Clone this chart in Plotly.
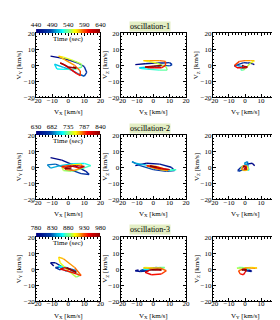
import plotly.graph_objects as go
from plotly.colors import sample_colorscale

FONT = "Liberation Serif"
W, H = 280, 320

# ---------------- data ----------------
# oscillation-1
t1 = [440, 447, 454, 461, 468, 475, 482, 489, 496, 503, 510, 517, 524, 531, 538,
      545, 552, 559, 566, 573, 580, 587, 594, 601, 608, 615, 622, 629, 636, 640]
vx1 = [-11, -5, 1, 6, 10, 11.5, 10, 6.5, 2, -3, -8.5, -7, -2, 4, 8.5,
       8, 2, -3, -6, -2, 4, 7.5, 7.5, 5, 1, -2.5, -5, 0, 5, 3]
vy1 = [5.8, 4.7, 3.2, 1.5, -0.8, -4.4, -6.8, -5.4, -3, -1.2, 0.7, -2.3, -2.5, -2.5, -1,
       1, 3.5, 5.2, 5.8, 3.5, 0, -3.5, -6.5, -5, -2, 0.5, 1.5, -1, -1.8, -1]
vz1 = [0.5, 1.0, 1.5, 1.5, 1.7, 0.5, -0.3, 0.0, -0.5, -1.0, -1.5, -2.0, -2.5, -3.0, -3.0,
       -1.0, 1.5, 2.5, 3.0, 3.0, 3.0, 2.5, 0.0, -1.5, -1.5, -1.5, -1.0, -0.5, 0.0, -0.5]
cb_ticks1 = [440, 490, 540, 590, 640]

# oscillation-2
t2 = [630, 637, 644, 651, 658, 665, 672, 679, 686, 693, 700, 707, 714, 721, 728,
      735, 742, 749, 756, 763, 770, 777, 784, 791, 798, 805, 812, 819, 826, 833, 840]
vx2 = [-11, -4, 4, 11, 13, 8, 0, -8, -13, -11, -5, 3, 10, 14, 8,
       2, -3, -4, 2, 8, 9, 4, -1, -4, 1, 7, 10, 5, -1, -2, 2]
vy2 = [6, 4.5, 1, -2.5, -4.5, -4, -1, 2, 1.5, -0.5, 1, 2.2, 2.4, 1, -1,
       -2.5, -2, 0, 1.5, 2, 0, -2, -1.5, 0.5, 1, -0.5, 0.5, 1, 0, -1, -0.5]
vz2 = [1, 2.5, 2, 0, -2, -2.5, -1.5, 1, 3.5, 2.5, 1.5, -0.5, -2, -1.5, -2,
       -1, 0.5, 1, 0.5, -1.5, -2, -1.5, 0, 1, 0.5, -1, -1.5, -1, 0.5, 0.8, 0]
cb_ticks2 = [630, 682, 735, 787, 840]

# oscillation-3
t3 = [780, 787, 794, 801, 808, 815, 822, 829, 836, 843, 850, 857, 864, 871, 878,
      885, 892, 899, 906, 913, 920, 927, 934, 941, 948, 955, 962, 969, 976, 980]
vx3 = [-9, -11, -8, -3, -5, -8, -4, 2, 5, 3, -2, -6, -1, 4, 7,
       5, 0, -5, -6, -3, 4, 8, 5, -1, -5, -2, 3, 5, 1, -1]
vy3 = [2, 4, 4, 1, -0.5, 1, 1.5, 0, -1, -2, -1, 2, 1, -2, -4,
       -5, -1, 4, 7.5, 6.5, 1, -4, -3, -1, 0, 1, -1, -2, 0, 1]
vz3 = [-0.5, -1, -1.5, -1, -0.5, -1, 0.3, 1.0, 0.5, 0, -0.5, 0, 0.5, 1, 1,
       0.5, 0.8, 1.0, 0.8, 0.5, 0.8, -1, -3, -3.5, -2, -0.5, 0, -0.5, -0.5, -0.3]
cb_ticks3 = [780, 830, 880, 930, 980]

osc_labels = ["oscillation-1", "oscillation-2", "oscillation-3"]
axis_ticks = [-20, -10, 0, 10, 20]
x_titles = ["V<sub>X</sub> [km/s]", "V<sub>X</sub> [km/s]", "V<sub>Y</sub> [km/s]"]
y_titles = ["V<sub>Y</sub> [km/s]", "V<sub>Z</sub> [km/s]", "V<sub>Z</sub> [km/s]"]

# ---------------- layout geometry ----------------
col_px = [(24, 91), (112, 180), (208, 275)]
row_top_px = [22, 126.5, 231]
ROW_H = 65.5
ytitle_shift = [-17, -15, -16]


def fx(p):
    return p / W


def fy(p):
    return 1 - p / H


oscs = [(t1, vx1, vy1, vz1, cb_ticks1),
        (t2, vx2, vy2, vz2, cb_ticks2),
        (t3, vx3, vy3, vz3, cb_ticks3)]
pairs = [("vx", "vy"), ("vx", "vz"), ("vy", "vz")]

tickfont = dict(family=FONT, size=7, color="black")
titlefont = dict(family=FONT, size=7, color="black")
fig = go.Figure()
layout = {}
annotations = []

k = 0
for r, (t, vx, vy, vz, cbt) in enumerate(oscs):
    comps = {"vx": vx, "vy": vy, "vz": vz}
    tmin, tmax = cbt[0], cbt[-1]
    top = row_top_px[r]
    bot = top + ROW_H
    for c in range(3):
        k += 1
        xs = comps[pairs[c][0]]
        ys = comps[pairs[c][1]]
        xname = "x" if k == 1 else f"x{k}"
        yname = "y" if k == 1 else f"y{k}"
        for i in range(len(t) - 1):
            f = ((t[i] + t[i + 1]) / 2 - tmin) / (tmax - tmin)
            col = sample_colorscale("Jet", [min(max(f, 0), 1)])[0]
            fig.add_trace(go.Scatter(
                x=[xs[i], xs[i + 1]], y=[ys[i], ys[i + 1]], mode="lines",
                line=dict(color=col, width=1.4), showlegend=False,
                hoverinfo="skip", xaxis=xname, yaxis=yname))
        common = dict(range=[-20, 20], tickmode="array", tickvals=axis_ticks,
                      ticks="inside", ticklen=3, tickwidth=0.7, tickcolor="black",
                      showline=True, linecolor="black", linewidth=0.8,
                      mirror="allticks", showgrid=False, zeroline=False,
                      tickfont=tickfont, fixedrange=True,
                      minor=dict(ticks="inside", ticklen=1.5, dtick=2,
                                 tickcolor="black", tickwidth=0.5, showgrid=False))
        x0, x1 = col_px[c]
        layout["xaxis" if k == 1 else f"xaxis{k}"] = dict(
            common, domain=[fx(x0), fx(x1)], anchor=yname, ticklabelstandoff=-4)
        layout["yaxis" if k == 1 else f"yaxis{k}"] = dict(
            common, domain=[fy(bot), fy(top)], anchor=xname, ticklabelstandoff=-1)
        # axis titles, placed relative to each subplot's axis domain
        annotations.append(dict(text=x_titles[c], xref=f"{xname} domain",
                                yref=f"{yname} domain", x=0.5, y=0, yshift=-15,
                                showarrow=False, font=titlefont,
                                xanchor="center", yanchor="middle"))
        annotations.append(dict(text=y_titles[c], xref=f"{xname} domain",
                                yref=f"{yname} domain", x=0, y=0.5,
                                xshift=ytitle_shift[c], textangle=-90,
                                showarrow=False, font=titlefont,
                                xanchor="center", yanchor="middle"))

    # time colour bar above the left panel
    kb = 10 + r
    x0, x1 = col_px[0]
    fig.add_trace(go.Heatmap(
        z=[t, t], x=t, y=[0, 1], colorscale="Jet", zmin=tmin, zmax=tmax,
        showscale=False, zsmooth="best", hoverinfo="skip",
        xaxis=f"x{kb}", yaxis=f"y{kb}"))
    layout[f"xaxis{kb}"] = dict(domain=[fx(x0), fx(x1)], anchor=f"y{kb}",
                                range=[tmin, tmax], side="top", tickmode="array",
                                tickvals=cbt, ticks="", showline=False,
                                showgrid=False, zeroline=False, tickfont=tickfont,
                                fixedrange=True)
    layout[f"yaxis{kb}"] = dict(domain=[fy(top), fy(top - 4.5)], anchor=f"x{kb}",
                                range=[0, 1], visible=False, fixedrange=True)
    annotations.append(dict(text="Time (sec)", x=fx((x0 + x1) / 2), y=fy(top + 5.5),
                            xref="paper", yref="paper", showarrow=False,
                            font=dict(family=FONT, size=7, color="black"),
                            xanchor="center", yanchor="middle"))
    m0, m1 = col_px[1]
    annotations.append(dict(text=osc_labels[r], x=fx((m0 + m1) / 2 - 3), y=fy(top - 7.5),
                            xref="paper", yref="paper", showarrow=False,
                            font=dict(family=FONT, size=8, color="black"),
                            bgcolor="#e3eec4", borderpad=0,
                            xanchor="center", yanchor="middle"))

fig.update_layout(**layout)
fig.update_layout(width=W, height=H, margin=dict(l=0, r=0, t=0, b=0),
                  paper_bgcolor="white", plot_bgcolor="white",
                  annotations=annotations, showlegend=False,
                  font=dict(family=FONT, size=7, color="black"))
fig.write_html("out.html")
